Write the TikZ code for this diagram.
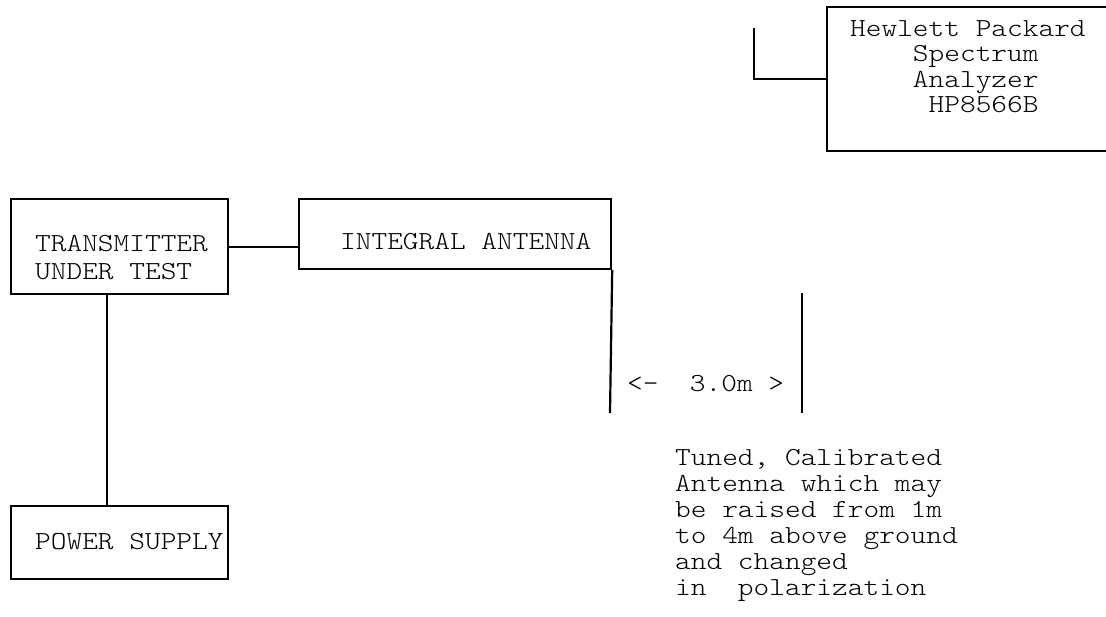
\documentclass[tikz,border=0pt]{standalone}
\usepackage{fontspec}
\setmonofont{lmmonolt10-regular.otf}[FakeStretch=1.15]
\begin{document}
\begin{tikzpicture}[x=1pt, y=-1pt,
    every node/.style={font=\ttfamily\fontsize{26}{25.5}\selectfont, inner sep=0pt},
    box/.style={draw, line width=2.2pt},
    txt/.style={anchor=north west, align=left},
    wire/.style={line width=2.2pt}]
  \useasboundingbox (0,0) rectangle (1106,616);
  \clip (0,0) rectangle (1106,616);

  % receiving side
  \node[box, minimum width=292, minimum height=144, anchor=north west] (analyzer) at (826,6) {};
  \node[txt] (analyzerText) at (850,20)
    {Hewlett Packard\\~~~~Spectrum\\~~~~Analyzer\\~~~~~HP8566B};
  \coordinate (feed) at (754,28);
  \draw[wire] (feed) |- (analyzer.west);

  % equipment under test
  \node[box, minimum width=217, minimum height=95, anchor=north west] (tx) at (10,198) {};
  \node[txt, font=\ttfamily\fontsize{26}{28}\selectfont] (txText) at (35,235) {TRANSMITTER\\UNDER TEST};
  \node[box, minimum width=312, minimum height=70, anchor=north west] (ant) at (298,198) {};
  \node[txt] (antText) at (340,233) {INTEGRAL ANTENNA};
  \node[box, minimum width=217, minimum height=73, anchor=north west] (psu) at (10,505) {};
  \node[txt] (psuText) at (35,533) {POWER SUPPLY};
  \draw[wire] (tx.east) -- (tx.east -| ant.west);
  \draw[wire] ([xshift=-12.5pt]tx.south) -- ([xshift=-12.5pt]tx.south |- psu.north);

  % measuring distance
  \coordinate (antFoot) at (610,413);
  \coordinate (mastTop) at (802,293);
  \coordinate (mastFoot) at (802,413);
  \draw[wire] (ant.south east) -- (antFoot);
  \draw[wire] (mastTop) -- (mastFoot);
  \node[txt] (dist) at (627,375) {<-~~3.0m~>};

  \node[txt, font=\ttfamily\fontsize{26}{26}\selectfont] (note) at (675,449)
    {Tuned, Calibrated\\Antenna which may\\be raised from 1m\\to 4m above ground\\and changed\\in~~polarization};
\end{tikzpicture}
\end{document}
